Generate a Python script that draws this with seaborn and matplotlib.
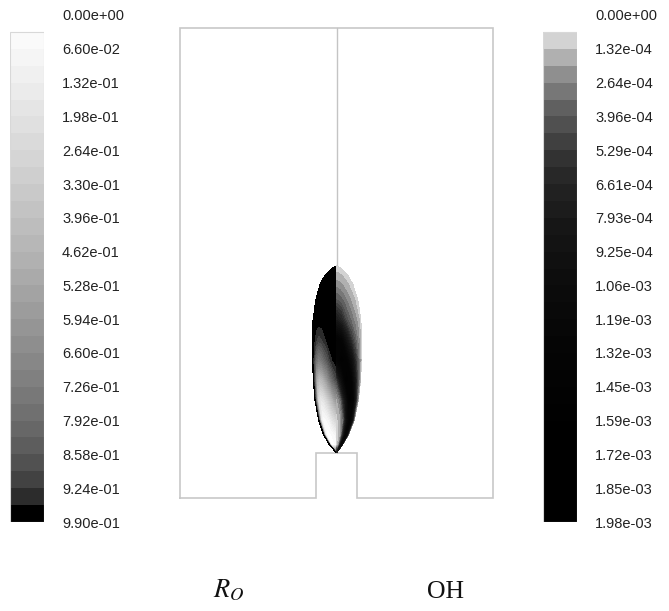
import numpy as np
import matplotlib
matplotlib.use("Agg")
import matplotlib.pyplot as plt
from matplotlib.colors import ListedColormap
from matplotlib.patches import Rectangle
import seaborn as sns

# ---------------- colour-bar data ----------------
ro_labels = ["0.00e+00", "6.60e-02", "1.32e-01", "1.98e-01", "2.64e-01", "3.30e-01",
             "3.96e-01", "4.62e-01", "5.28e-01", "5.94e-01", "6.60e-01", "7.26e-01",
             "7.92e-01", "8.58e-01", "9.24e-01", "9.90e-01"]
oh_labels = ["0.00e+00", "1.32e-04", "2.64e-04", "3.96e-04", "5.29e-04", "6.61e-04",
             "7.93e-04", "9.25e-04", "1.06e-03", "1.19e-03", "1.32e-03", "1.45e-03",
             "1.59e-03", "1.72e-03", "1.85e-03", "1.98e-03"]
ro_max = 0.99
oh_max_e4 = 19.8225          # OH maximum in units of 1e-4

# grey level (0-255) of each of the 30 colour bands, top (low value) to bottom
ro_band_gray = [255, 250, 245, 240, 235, 229, 224, 218, 213, 207,
                201, 195, 189, 183, 177, 170, 163, 156, 149, 142,
                135, 128, 120, 112, 103, 93, 81, 66, 44, 0]
oh_band_gray = [255, 211, 176, 143, 119, 96, 80, 64, 50, 40,
                33, 28, 22, 19, 16, 13, 11, 9, 7, 5,
                4, 3, 2, 1, 0, 0, 0, 0, 0, 0]

# ---------------- geometry (mm) ----------------
domain_radius = 50.0
domain_height = 150.0
nozzle_radius = 6.4
nozzle_height = 14.4

# flame outline: heights and half widths (mm) of the R_O (left) and OH (right) halves
flame_z = [14.4, 16.9, 20.1, 24.9, 31.3, 37.7, 44.0, 50.4, 56.8, 63.2, 68.0, 70.9, 73.4, 74.1]
flame_w_left = [0.0, 2.2, 4.1, 5.7, 6.9, 7.4, 7.7, 7.7, 7.5, 6.6, 5.3, 3.8, 1.4, 0.0]
flame_w_right = [0.0, 1.9, 3.8, 5.7, 7.0, 7.7, 8.0, 8.0, 7.8, 6.8, 5.3, 3.8, 1.4, 0.0]
flame_s = [0.0, 0.2, 0.4, 0.6, 0.75, 0.87, 0.95, 1.0]   # fraction of half width

# R_O field (rows = flame_z, cols = flame_s)
ro_field = [
    [0.98, 0.98, 0.98, 0.98, 0.98, 0.98, 0.98, 0.98],
    [0.05, 0.03, 0.02, 0.02, 0.03, 0.20, 0.75, 0.98],
    [0.08, 0.05, 0.03, 0.02, 0.03, 0.15, 0.65, 0.98],
    [0.28, 0.20, 0.10, 0.05, 0.04, 0.15, 0.65, 0.98],
    [0.60, 0.45, 0.30, 0.18, 0.15, 0.28, 0.75, 0.98],
    [0.90, 0.78, 0.60, 0.45, 0.40, 0.50, 0.85, 0.98],
    [0.98, 0.95, 0.85, 0.75, 0.70, 0.78, 0.92, 0.98],
    [0.98, 0.98, 0.96, 0.92, 0.90, 0.93, 0.97, 0.98],
    [0.98, 0.98, 0.98, 0.98, 0.98, 0.98, 0.98, 0.98],
    [0.98, 0.98, 0.98, 0.98, 0.98, 0.98, 0.98, 0.98],
    [0.98, 0.98, 0.98, 0.98, 0.98, 0.98, 0.98, 0.98],
    [0.98, 0.98, 0.98, 0.98, 0.98, 0.98, 0.98, 0.98],
    [0.98, 0.98, 0.98, 0.98, 0.98, 0.98, 0.98, 0.98],
    [0.98, 0.98, 0.98, 0.98, 0.98, 0.98, 0.98, 0.98],
]
# OH mass fraction field in units of 1e-4
oh_field_e4 = [
    [6.9, 6.9, 6.9, 6.9, 6.9, 6.9, 6.9, 6.9],
    [1.0, 1.4, 2.4, 6.9, 11.9, 9.9, 4.4, 2.0],
    [1.0, 1.3, 2.4, 7.9, 12.9, 10.9, 4.4, 1.8],
    [1.1, 1.6, 3.6, 10.9, 13.9, 9.9, 3.6, 1.5],
    [1.6, 3.2, 8.9, 14.9, 12.9, 6.9, 2.8, 1.2],
    [4.4, 9.9, 14.9, 13.9, 8.9, 4.4, 2.2, 1.0],
    [12.9, 14.9, 13.9, 9.9, 5.9, 3.2, 1.8, 1.0],
    [13.9, 12.9, 8.9, 5.5, 3.6, 2.4, 1.5, 0.9],
    [7.9, 6.5, 4.4, 3.2, 2.4, 1.8, 1.2, 0.9],
    [4.0, 3.6, 2.9, 2.2, 1.7, 1.3, 1.0, 0.9],
    [2.4, 2.2, 1.9, 1.6, 1.3, 1.1, 0.95, 0.9],
    [1.6, 1.5, 1.4, 1.2, 1.1, 1.0, 0.9, 0.9],
    [1.0, 1.0, 1.0, 1.0, 1.0, 1.0, 1.0, 1.0],
    [0.9, 0.9, 0.9, 0.9, 0.9, 0.9, 0.9, 0.9],
]

# ---------------- style ----------------
sns.set_theme(style="white")
plt.rcParams["font.family"] = ["Liberation Sans", "DejaVu Sans"]
plt.rcParams["mathtext.fontset"] = "stix"

W, H = 669, 611
fig = plt.figure(figsize=(W / 100, H / 100), dpi=100)
fig.patch.set_facecolor("white")


def hexgray(g):
    return "#%02x%02x%02x" % (g, g, g)


def px_axes(x0, y0, x1, y1):
    return fig.add_axes([x0 / W, 1 - y1 / H, (x1 - x0) / W, (y1 - y0) / H])


def colorbar(ax, grays, labels):
    cmap = ListedColormap([hexgray(g) for g in grays])
    n = len(grays)
    data = np.arange(n).reshape(n, 1)
    sns.heatmap(data, ax=ax, cmap=cmap, vmin=-0.5, vmax=n - 0.5, cbar=False,
                xticklabels=False, yticklabels=False)
    ax.add_patch(Rectangle((0, 1), 1, n - 1, fill=False, edgecolor="#d8d8d8",
                           lw=0.8, zorder=5))
    ax.set_yticks(np.arange(0, n + 1, 2))
    ax.set_yticklabels(labels)
    ax.yaxis.tick_right()
    ax.tick_params(axis="y", length=0, pad=13, labelsize=10.5, labelcolor="#222222",
                   right=False, left=False)
    for sp in ax.spines.values():
        sp.set_visible(False)
    ax.set_xlabel("")
    ax.set_ylabel("")


ax_l = px_axes(10, 15, 44, 522)
colorbar(ax_l, ro_band_gray, ro_labels)
ax_r = px_axes(543, 15, 577, 522)
colorbar(ax_r, oh_band_gray, oh_labels)

# ---------------- domain and flame ----------------
ax = px_axes(180, 28, 493, 498)
ax.set_xlim(-domain_radius, domain_radius)
ax.set_ylim(0, domain_height)
ax.axis("off")

outline_r = [-domain_radius, -nozzle_radius, -nozzle_radius, nozzle_radius,
             nozzle_radius, domain_radius, domain_radius, -domain_radius, -domain_radius]
outline_z = [0, 0, nozzle_height, nozzle_height, 0, 0, domain_height, domain_height, 0]
ax.plot(outline_r, outline_z, color="#c8c8c8", lw=1.2, clip_on=False, zorder=1,
        solid_joinstyle="miter")
ax.plot([0, 0], [nozzle_height, domain_height], color="#c4c4c4", lw=1.0,
        clip_on=False, zorder=1)

zz = np.array(flame_z)[:, None] * np.ones((1, len(flame_s)))
ss = np.array(flame_s)[None, :]
xl = -ss * np.array(flame_w_left)[:, None]
xr = ss * np.array(flame_w_right)[:, None]

ro_levels = np.linspace(0, ro_max, len(ro_band_gray) + 1)
oh_levels = np.linspace(0, oh_max_e4, len(oh_band_gray) + 1)
ax.contourf(xl, zz, np.array(ro_field), levels=ro_levels,
            colors=[hexgray(g) for g in ro_band_gray], zorder=2, antialiased=False)
ax.contourf(xr, zz, np.array(oh_field_e4), levels=oh_levels,
            colors=[hexgray(g) for g in oh_band_gray], zorder=2, antialiased=False)

# ---------------- captions ----------------
fig.text(229 / W, 1 - 590 / H, r"$R_O$", ha="center", va="center", fontsize=19,
         color="#111111")
fig.text(445 / W, 1 - 592 / H, "OH", ha="center", va="center", fontsize=18.5,
         family=["Liberation Serif", "DejaVu Serif"], color="#111111")

fig.savefig("out.png", dpi=100, facecolor="white")
